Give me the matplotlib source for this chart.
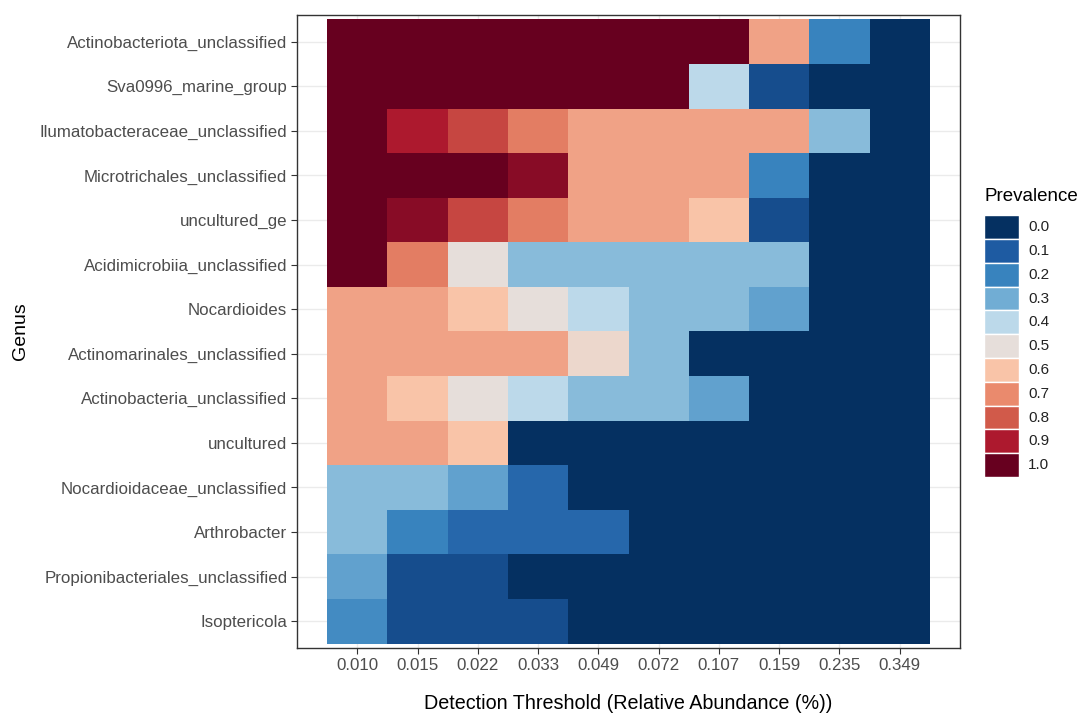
import matplotlib
matplotlib.use("Agg")
import matplotlib.pyplot as plt
import numpy as np
from matplotlib.colors import LinearSegmentedColormap
from matplotlib.patches import Rectangle

plt.rcParams['font.family'] = ['Liberation Sans', 'DejaVu Sans']

genera = ["Actinobacteriota_unclassified", "Sva0996_marine_group",
          "Ilumatobacteraceae_unclassified", "Microtrichales_unclassified",
          "uncultured_ge", "Acidimicrobiia_unclassified", "Nocardioides",
          "Actinomarinales_unclassified", "Actinobacteria_unclassified",
          "uncultured", "Nocardioidaceae_unclassified", "Arthrobacter",
          "Propionibacteriales_unclassified", "Isoptericola"]

thresholds = ["0.010", "0.015", "0.022", "0.033", "0.049", "0.072",
              "0.107", "0.159", "0.235", "0.349"]

# prevalence per genus (rows) at each detection threshold (columns)
prevalence = [
    [1.00, 1.00, 1.00, 1.00, 1.00, 1.00, 1.00, 0.66, 0.20, 0.00],
    [1.00, 1.00, 1.00, 1.00, 1.00, 1.00, 0.40, 0.07, 0.00, 0.00],
    [1.00, 0.90, 0.83, 0.73, 0.66, 0.66, 0.66, 0.66, 0.33, 0.00],
    [1.00, 1.00, 1.00, 0.95, 0.66, 0.66, 0.66, 0.20, 0.00, 0.00],
    [1.00, 0.95, 0.83, 0.73, 0.66, 0.66, 0.60, 0.07, 0.00, 0.00],
    [1.00, 0.73, 0.50, 0.33, 0.33, 0.33, 0.33, 0.33, 0.00, 0.00],
    [0.66, 0.66, 0.60, 0.50, 0.40, 0.33, 0.33, 0.27, 0.00, 0.00],
    [0.66, 0.66, 0.66, 0.66, 0.53, 0.33, 0.00, 0.00, 0.00, 0.00],
    [0.66, 0.60, 0.50, 0.40, 0.33, 0.33, 0.27, 0.00, 0.00, 0.00],
    [0.66, 0.66, 0.60, 0.00, 0.00, 0.00, 0.00, 0.00, 0.00, 0.00],
    [0.33, 0.33, 0.27, 0.13, 0.00, 0.00, 0.00, 0.00, 0.00, 0.00],
    [0.33, 0.20, 0.13, 0.13, 0.13, 0.00, 0.00, 0.00, 0.00, 0.00],
    [0.27, 0.07, 0.07, 0.00, 0.00, 0.00, 0.00, 0.00, 0.00, 0.00],
    [0.22, 0.07, 0.07, 0.07, 0.00, 0.00, 0.00, 0.00, 0.00, 0.00],
]

legend_breaks = [0.0, 0.1, 0.2, 0.3, 0.4, 0.5, 0.6, 0.7, 0.8, 0.9, 1.0]

# blue -> red gradient for prevalence
cmap = LinearSegmentedColormap.from_list("prev", [
    "#053061", "#1f5ca3", "#3883be", "#72aed4", "#bcd9ea", "#e6dfdb",
    "#f9c4a8", "#ea8b6e", "#d15a4a", "#ae1a2e", "#67001f"])

data = np.array(prevalence)
nrow, ncol = data.shape

fig = plt.figure(figsize=(10.79, 7.13), dpi=100)
ax = fig.add_axes([0.2753, 0.0912, 0.6144, 0.8878])

xe = np.arange(ncol + 1) - 0.5
ye = np.arange(nrow + 1) - 0.5
ax.pcolormesh(xe, ye, data, cmap=cmap, vmin=0, vmax=1, zorder=2)

ax.set_xlim(-1.0, ncol)
ax.set_ylim(nrow - 0.5 + 0.1, -0.6)

ax.set_xticks(range(ncol))
ax.set_xticklabels(thresholds)
ax.set_yticks(range(nrow))
ax.set_yticklabels(genera)
ax.tick_params(axis='both', labelsize=12.2, labelcolor='#4d4d4d',
               color='#333333', length=4, width=0.8, pad=3)

ax.set_axisbelow(True)
ax.grid(True, color='#ebebeb', linewidth=1.0, zorder=0)
for s in ax.spines.values():
    s.set_color('#333333')
    s.set_linewidth(1.0)

ax.set_xlabel("Detection Threshold (Relative Abundance (%))", fontsize=14.2,
              labelpad=15)
ax.set_ylabel("Genus", fontsize=14, labelpad=8)

# legend drawn as discrete boxes
lax = fig.add_axes([0.912, 0.331, 0.0325, 0.367])
nkey = len(legend_breaks)
for i, v in enumerate(legend_breaks):
    lax.add_patch(Rectangle((0, i), 1, 1, facecolor=cmap(v),
                            edgecolor='white', linewidth=1.0))
    lax.text(1.25, i + 0.5, f"{v:.1f}", va='center', ha='left',
             fontsize=11, color='#222222')
lax.set_xlim(0, 1)
lax.set_ylim(nkey, 0)
lax.axis('off')
fig.text(0.912, 0.725, "Prevalence", fontsize=13.5, ha='left', va='center')

fig.savefig("out.png", dpi=100)
